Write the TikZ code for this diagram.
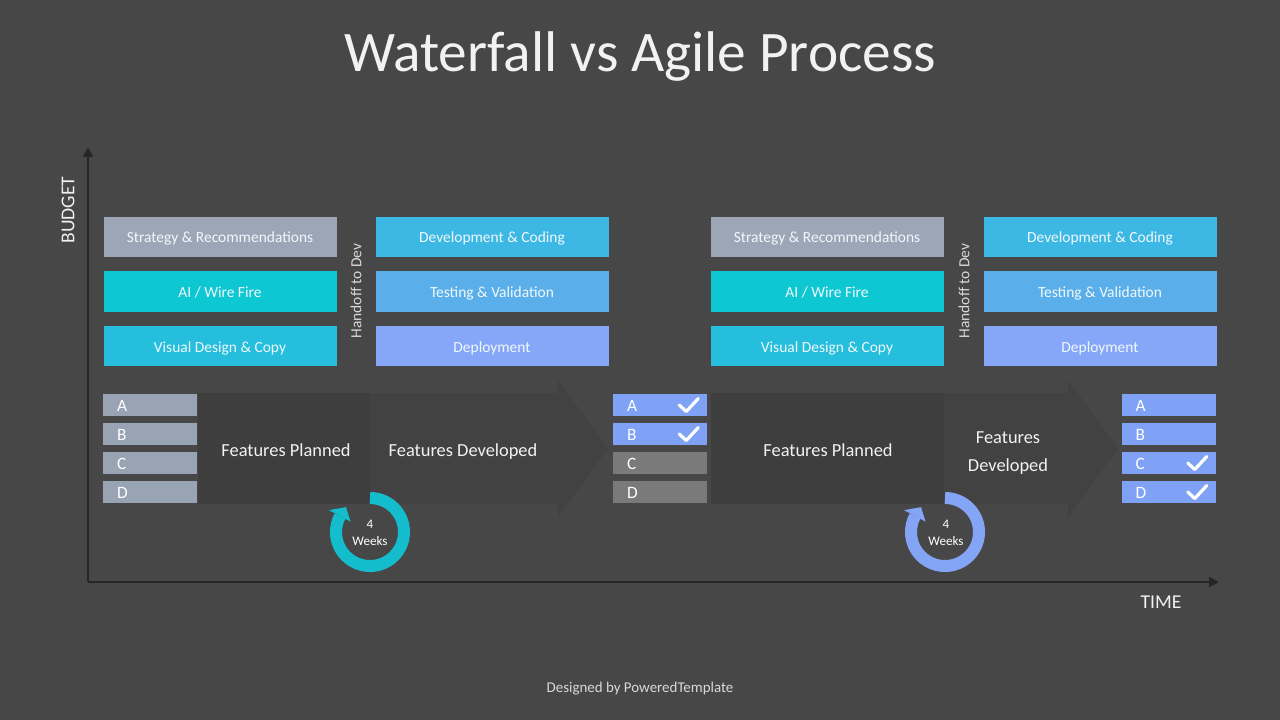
\documentclass[tikz,border=0pt]{standalone}
\usepackage{fontspec}
\setmainfont{Carlito}
\usetikzlibrary{arrows.meta}
\definecolor{bg}{HTML}{474747}
\definecolor{axiscol}{HTML}{262626}
\definecolor{planfill}{HTML}{3E3E3E}
\definecolor{devfill}{HTML}{424242}
\definecolor{strat}{HTML}{9CA6B6}
\definecolor{aiw}{HTML}{0DC7D3}
\definecolor{vis}{HTML}{25BEDC}
\definecolor{devc}{HTML}{3DB8E4}
\definecolor{test}{HTML}{5AAEEA}
\definecolor{depl}{HTML}{86A7F8}
\definecolor{lgray}{HTML}{98A3B4}
\definecolor{lblue}{HTML}{7FA2F7}
\definecolor{ldark}{HTML}{7A7A7A}
\definecolor{ringA}{HTML}{14BDCC}
\definecolor{ringB}{HTML}{84A5F5}
\definecolor{boxtext}{HTML}{F0F8FC}
\definecolor{lighttext}{HTML}{F2F2F2}
\definecolor{foot}{HTML}{D9D9D9}
\tikzset{
  wbox/.style={rectangle, inner sep=0pt, minimum width=174.75pt, minimum height=30.4pt,
    text height=9.5pt, text depth=0.5pt,
    text=boxtext, font=\fontsize{11.6pt}{13pt}\selectfont},
  lbox/.style={rectangle, inner xsep=10.5pt, inner ysep=0pt, text width=49.5pt, align=left,
    minimum height=16.5pt, text height=10pt, text depth=0pt,
    text=white, font=\fontsize{13pt}{14pt}\selectfont},
  feat/.style={text=lighttext, font=\fontsize{13.8pt}{21pt}\selectfont, align=center, anchor=base},
  axisline/.style={draw=axiscol, line width=1.5pt, -{Triangle[length=7.5pt,width=7.5pt]}},
  axlabel/.style={text=lighttext, font=\fontsize{14.7pt}{16pt}\selectfont},
  handoff/.style={text=foot, rotate=90, font=\fontsize{11.6pt}{13pt}\selectfont},
  tick/.style={draw=white, line width=2.4pt, line cap=round, line join=round},
  ringline/.style={line width=9pt},
  weeks/.style={text=white, font=\fontsize{9.8pt}{12.75pt}\selectfont, align=center, anchor=base}
}
\begin{document}
\begin{tikzpicture}[x=0.75pt,y=-0.75pt]
\useasboundingbox (0,0) rectangle (1280,720);
\fill[bg] (0,0) rectangle (1280,720);

% title
\node[text=lighttext, anchor=base, font=\fontsize{43pt}{50pt}\selectfont] (title) at (640,72) {Waterfall vs Agile Process};

% axes
\coordinate (origin) at (88,582);
\coordinate (ytop) at (88,147);
\coordinate (xend) at (1219,582);
\draw[axisline] (origin) -- (ytop);
\draw[axisline] (origin) -- (xend);
\node[axlabel, rotate=90] (budget) at (68,210) {BUDGET};
\node[axlabel, anchor=base] (time) at (1161,608) {TIME};

% big arrows (first process)
\node[rectangle, fill=planfill, inner sep=0pt, minimum width=129pt, minimum height=83.25pt] (plan1) at (284,448.5) {};
\fill[devfill] (370,393) -- (558,393) -- (558,380) -- (608,448.5) -- (558,517) -- (558,504) -- (370,504) -- cycle;
\node[feat] (fp1) at (286,456) {Features Planned};
\node[feat] (fd1) at (463,456) {Features Developed};

% big arrows (second process)
\node[rectangle, fill=planfill, inner sep=0pt, minimum width=175.5pt, minimum height=83.25pt] (plan2) at (828,448.5) {};
\fill[devfill] (944,393) -- (1068,393) -- (1068,380) -- (1118,448.5) -- (1068,517) -- (1068,504) -- (944,504) -- cycle;
\node[feat] (fp2) at (828,456) {Features Planned};
\node[feat] (fd2) at (1008,471) {Features\\Developed};

% top boxes, first process
\node[wbox, fill=strat] (s1) at (220,237) {Strategy \& Recommendations};
\node[wbox, fill=aiw] (a1) at (220,291.5) {AI / Wire Fire};
\node[wbox, fill=vis] (v1) at (220,346) {Visual Design \& Copy};
\node[wbox, fill=devc] (d1) at (492,237) {Development \& Coding};
\node[wbox, fill=test] (t1) at (492,291.5) {Testing \& Validation};
\node[wbox, fill=depl] (p1) at (492,346) {Deployment};
\node[handoff] (h1) at (356,291) {Handoff to Dev};

% top boxes, second process
\node[wbox, fill=strat] (s2) at (827,237) {Strategy \& Recommendations};
\node[wbox, fill=aiw] (a2) at (827,291.5) {AI / Wire Fire};
\node[wbox, fill=vis] (v2) at (827,346) {Visual Design \& Copy};
\node[wbox, fill=devc] (d2) at (1100,237) {Development \& Coding};
\node[wbox, fill=test] (t2) at (1100,291.5) {Testing \& Validation};
\node[wbox, fill=depl] (p2) at (1100,346) {Deployment};
\node[handoff] (h2) at (964,291) {Handoff to Dev};

% letter boxes
\node[lbox, fill=lgray] (la1) at (150,405) {A};
\node[lbox, fill=lgray] (lb1) at (150,434) {B};
\node[lbox, fill=lgray] (lc1) at (150,463) {C};
\node[lbox, fill=lgray] (ld1) at (150,492) {D};

\node[lbox, fill=lblue] (la2) at (660,405) {A};
\node[lbox, fill=lblue] (lb2) at (660,434) {B};
\node[lbox, fill=ldark] (lc2) at (660,463) {C};
\node[lbox, fill=ldark] (ld2) at (660,492) {D};

\node[lbox, fill=lblue] (la3) at (1168.5,405) {A};
\node[lbox, fill=lblue] (lb3) at (1168.5,434) {B};
\node[lbox, fill=lblue] (lc3) at (1168.5,463) {C};
\node[lbox, fill=lblue] (ld3) at (1168.5,492) {D};

% check marks
\foreach \b in {la2,lb2,lc3,ld3}{
  \draw[tick] ([shift={(-28,0)}]\b.east) -- ([shift={(-21,6.5)}]\b.east) -- ([shift={(-9,-6.5)}]\b.east);
}

% cycle rings
\coordinate (c1) at (370,532);
\draw[ringline, draw=ringA] ([shift={(-90:34)}]c1) arc[start angle=-90, end angle=208, radius=34];
\fill[ringA] ([shift={(-152:22)}]c1) -- ([shift={(-152:46.5)}]c1) -- ([shift={(-134:34.5)}]c1) -- cycle;
\node[weeks] (w1) at (370,545) {4\\Weeks};

\coordinate (c2) at (945,532);
\draw[ringline, draw=ringB] ([shift={(-90:34)}]c2) arc[start angle=-90, end angle=208, radius=34];
\fill[ringB] ([shift={(-152:22)}]c2) -- ([shift={(-152:46.5)}]c2) -- ([shift={(-134:34.5)}]c2) -- cycle;
\node[weeks] (w2) at (946,545) {4\\Weeks};

% footer
\node[text=foot, anchor=base, font=\fontsize{11.2pt}{13pt}\selectfont] (footer) at (640,692) {Designed by PoweredTemplate};
\end{tikzpicture}
\end{document}
